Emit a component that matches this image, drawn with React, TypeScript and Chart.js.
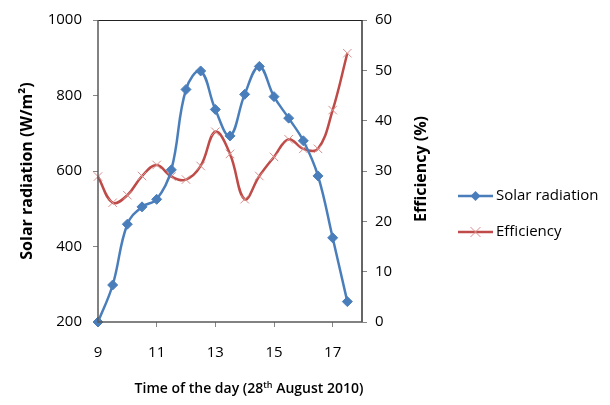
import React, { useEffect, useRef } from "react";
import { Chart, registerables } from "chart.js";

Chart.register(...registerables);

const hours = [9, 9.5, 10, 10.5, 11, 11.5, 12, 12.5, 13, 13.5, 14, 14.5, 15, 15.5, 16, 16.5, 17, 17.5];
const solarRadiation = [200, 298, 459, 505, 525, 603, 816, 865, 763, 693, 803, 877, 797, 740, 680, 587, 423, 254];
const efficiency = [28.9, 23.7, 25.2, 29.0, 31.2, 28.9, 28.3, 31.0, 37.8, 33.4, 24.4, 29.0, 32.8, 36.3, 34.4, 34.4, 42.1, 53.4];
const xTickValues = [9, 11, 13, 15, 17];
const seriesNames = ["Solar radiation", "Efficiency"];
const titles = {
  y: "Solar radiation (W/m²)",
  y1: "Efficiency (%)",
  xMain: "Time of the day (28",
  xSup: "th",
  xEnd: " August 2010)",
};

const BLUE = "#4A7EBB";
const RED = "#BE4B48";
const RED_MARK = "#D98F8D";
const FONT = "'Open Sans'";

function drawDiamond(ctx: CanvasRenderingContext2D, x: number, y: number, r: number) {
  ctx.beginPath();
  ctx.moveTo(x, y - r);
  ctx.lineTo(x + r, y);
  ctx.lineTo(x, y + r);
  ctx.lineTo(x - r, y);
  ctx.closePath();
  ctx.fillStyle = BLUE;
  ctx.fill();
}

function drawCross(ctx: CanvasRenderingContext2D, x: number, y: number, r: number) {
  ctx.beginPath();
  ctx.moveTo(x - r, y - r);
  ctx.lineTo(x + r, y + r);
  ctx.moveTo(x + r, y - r);
  ctx.lineTo(x - r, y + r);
  ctx.strokeStyle = RED_MARK;
  ctx.lineWidth = 1;
  ctx.stroke();
}

const decorPlugin = {
  id: "decor",
  afterDraw(chart: any) {
    const ctx: CanvasRenderingContext2D = chart.ctx;
    const { left, right, top, bottom } = chart.chartArea;
    ctx.save();
    // frame
    ctx.lineCap = "butt";
    ctx.strokeStyle = "#222";
    ctx.lineWidth = 1;
    ctx.beginPath();
    ctx.moveTo(left, top + 0.5);
    ctx.lineTo(right, top + 0.5);
    ctx.stroke();
    ctx.lineWidth = 1.5;
    ctx.strokeStyle = "#333";
    ctx.beginPath();
    ctx.moveTo(right, top);
    ctx.lineTo(right, bottom);
    ctx.stroke();
    ctx.strokeStyle = "#595959";
    ctx.beginPath();
    ctx.moveTo(left, top);
    ctx.lineTo(left, bottom);
    ctx.lineTo(right, bottom);
    ctx.stroke();

    ctx.fillStyle = "#000";
    ctx.textBaseline = "middle";
    ctx.textAlign = "center";
    // left title
    ctx.save();
    ctx.translate(27, 171);
    ctx.rotate(-Math.PI / 2);
    ctx.font = `bold 16px ${FONT}`;
    ctx.fillText(titles.y, 0, 0);
    ctx.restore();
    // right title
    ctx.save();
    ctx.translate(421, 169);
    ctx.rotate(-Math.PI / 2);
    ctx.font = `bold 16px ${FONT}`;
    ctx.fillText(titles.y1, 0, 0);
    ctx.restore();
    // x title with superscript
    const mainFont = `600 14px ${FONT}`;
    const supFont = `600 9px ${FONT}`;
    ctx.font = mainFont;
    const w1 = ctx.measureText(titles.xMain).width;
    const w3 = ctx.measureText(titles.xEnd).width;
    ctx.font = supFont;
    const w2 = ctx.measureText(titles.xSup).width;
    const total = w1 + w2 + w3;
    let x = 249 - total / 2;
    const ty = 389;
    ctx.textAlign = "left";
    ctx.font = mainFont;
    ctx.fillText(titles.xMain, x, ty);
    x += w1;
    ctx.font = supFont;
    ctx.fillText(titles.xSup, x, ty - 4);
    x += w2;
    ctx.font = mainFont;
    ctx.fillText(titles.xEnd, x, ty);

    // legend
    const ly = [196, 232];
    const lx1 = 458;
    const lx2 = 493;
    ctx.font = `15px ${FONT}`;
    ctx.lineWidth = 2.5;
    ctx.strokeStyle = BLUE;
    ctx.beginPath();
    ctx.moveTo(lx1, ly[0]);
    ctx.lineTo(lx2, ly[0]);
    ctx.stroke();
    drawDiamond(ctx, (lx1 + lx2) / 2, ly[0], 5);
    ctx.lineWidth = 2.5;
    ctx.strokeStyle = RED;
    ctx.beginPath();
    ctx.moveTo(lx1, ly[1]);
    ctx.lineTo(lx2, ly[1]);
    ctx.stroke();
    drawCross(ctx, (lx1 + lx2) / 2, ly[1], 5);
    ctx.fillStyle = "#000";
    ctx.textAlign = "left";
    ctx.fillText(seriesNames[0], 496, ly[0]);
    ctx.fillText(seriesNames[1], 496, ly[1]);
    ctx.restore();
  },
};

export default function App() {
  const ref = useRef<HTMLCanvasElement | null>(null);

  useEffect(() => {
    document.body.style.margin = "0";
    const canvas = ref.current;
    if (!canvas) return;
    Chart.defaults.font.family = FONT;
    const tickFont = { family: FONT, size: 15 };
    const plain = (v: any) => String(v);
    const gridCommon = {
      drawOnChartArea: false,
      drawTicks: true,
      tickLength: 5,
      color: "#868686",
      lineWidth: 1,
    };
    const chart = new Chart(canvas, {
      type: "line",
      data: {
        datasets: [
          {
            label: seriesNames[0],
            data: hours.map((h, i) => ({ x: h, y: solarRadiation[i] })),
            yAxisID: "y",
            borderColor: BLUE,
            backgroundColor: BLUE,
            borderWidth: 2.5,
            tension: 0.4,
            pointStyle: "rectRot",
            pointRadius: 5,
            pointBackgroundColor: BLUE,
            pointBorderColor: BLUE,
            pointBorderWidth: 1,
            clip: false,
            order: 0,
          },
          {
            label: seriesNames[1],
            data: hours.map((h, i) => ({ x: h, y: efficiency[i] })),
            yAxisID: "y1",
            borderColor: RED,
            backgroundColor: RED,
            borderWidth: 2.5,
            tension: 0.4,
            pointStyle: "crossRot",
            pointRadius: 6,
            pointBorderColor: RED_MARK,
            pointBorderWidth: 1,
            clip: false,
            order: 1,
          },
        ],
      },
      options: {
        animation: false,
        responsive: false,
        maintainAspectRatio: false,
        layout: { padding: { top: 20, left: 0, right: 0, bottom: 0 } },
        plugins: {
          legend: { display: false },
          tooltip: { enabled: false },
        },
        scales: {
          x: {
            type: "linear",
            min: 9,
            max: 18,
            position: "bottom",
            afterBuildTicks: (s: any) => {
              s.ticks = xTickValues.map((v) => ({ value: v }));
            },
            afterFit: (s: any) => {
              s.height = 83;
            },
            grid: gridCommon,
            border: { display: false },
            ticks: { font: tickFont, color: "#000", padding: 17, maxRotation: 0, autoSkip: false, callback: plain },
          },
          y: {
            type: "linear",
            position: "left",
            min: 200,
            max: 1000,
            ticks: { stepSize: 200, font: tickFont, color: "#000", padding: 11, callback: plain },
            afterFit: (s: any) => {
              s.width = 98;
            },
            grid: gridCommon,
            border: { display: false },
          },
          y1: {
            type: "linear",
            position: "right",
            min: 0,
            max: 60,
            ticks: { stepSize: 10, font: tickFont, color: "#000", padding: 8, callback: plain },
            afterFit: (s: any) => {
              s.width = 248;
            },
            grid: gridCommon,
            border: { display: false },
          },
        },
      },
      plugins: [decorPlugin],
    } as any);
    return () => chart.destroy();
  }, []);

  return (
    <div style={{ width: 610, height: 405, background: "#fff" }}>
      <canvas ref={ref} width={610} height={405} style={{ display: "block" }} />
    </div>
  );
}
